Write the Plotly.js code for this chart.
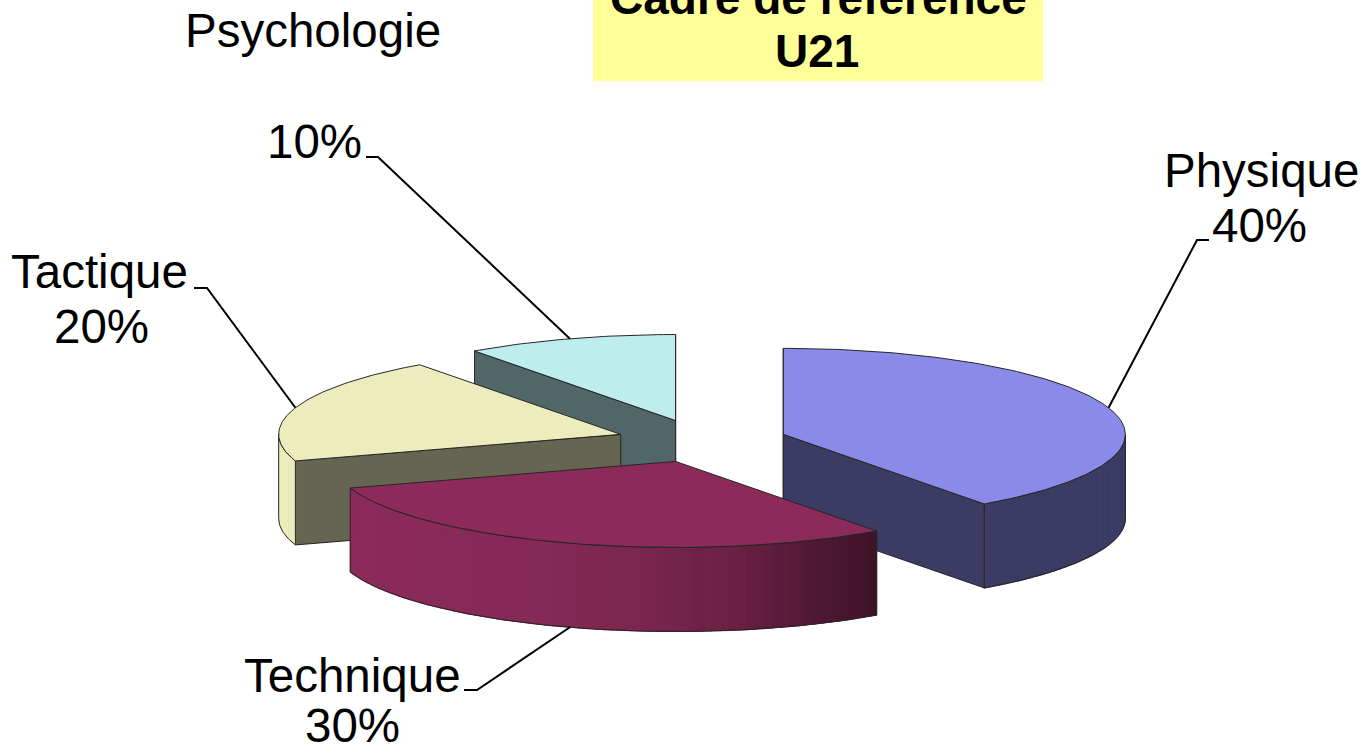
<!DOCTYPE html>
<html><head><meta charset="utf-8">
<script src="https://cdn.plot.ly/plotly-3.0.1.min.js"></script>
<style>html,body{margin:0;padding:0;background:#fff;overflow:hidden}</style>
</head><body><div id="chart" style="width:1367px;height:753px"></div>
<script>
// ---- data ----
const categories = ["Physique", "Technique", "Tactique", "Psychologie"];
const values = [40, 30, 20, 10];
const percentLabels = ["40%", "30%", "20%", "10%"];
const sliceColors = ["#8a8ae8", "#8c2b5a", "#ececbd", "#bdeded"];
const titleLines = ["Cadre de référence", "U21"];

// ---- layout / geometry params (pixels) ----
const W = 1367, H = 753;
const geom = {cx: 702, cy: 441, rx: 342, ry: 86, depth: 84, explode: 0.25};
const FONT = '"Liberation Sans", Arial, sans-serif';
const FS = 47.5;
const TFS = 46;
const labelPos = {
  "Physique":    {name: [1261, 187], pct: [1259, 242], elbow: [1197, 240], end: [1209, 240]},
  "Technique":   {name: [352, 692],  pct: [352, 742],  elbow: [477, 690],  end: [464, 690]},
  "Tactique":    {name: [100, 288],  pct: [101, 343],  elbow: [207, 288],  end: [194, 288]},
  "Psychologie": {name: [313, 47],   pct: [314, 158],  elbow: [378, 157],  end: [366, 157]}
};

const rad = d => d * Math.PI / 180;
const total = values.reduce((a, b) => a + b, 0);
let acc = 0;
const slices = values.map((v, i) => {
  const a0 = acc / total * 360; acc += v; const a1 = acc / total * 360;
  const mid = (a0 + a1) / 2;
  const ax = geom.cx + geom.explode * geom.rx * Math.sin(rad(mid));
  const ay = geom.cy - geom.explode * geom.ry * Math.cos(rad(mid));
  return {i, a0, a1, mid, ax, ay};
});
function pt(s, th, down) {
  return [s.ax + geom.rx * Math.sin(rad(th)), s.ay - geom.ry * Math.cos(rad(th)) + (down ? geom.depth : 0)];
}
function arc(s, t0, t1, down) {
  const n = Math.max(2, Math.ceil(Math.abs(t1 - t0)));
  const out = [];
  for (let k = 0; k <= n; k++) out.push(pt(s, t0 + (t1 - t0) * k / n, down));
  return out;
}
function hexRgb(h) { return [1, 3, 5].map(k => parseInt(h.substr(k, 2), 16)); }
function shade(h, f) { const c = hexRgb(h).map(x => Math.max(0, Math.min(255, Math.round(x * f)))); return `rgb(${c[0]},${c[1]},${c[2]})`; }
const shadeTable = [[-1, 1.0], [-0.4, 0.95], [-0.1, 0.87], [0.2, 0.73], [0.4, 0.57], [0.6, 0.43], [1, 0.43]];
function rimFactor(th) {
  const s = Math.sin(rad(th));
  for (let k = 0; k < shadeTable.length - 1; k++) {
    const [s0, f0] = shadeTable[k], [s1, f1] = shadeTable[k + 1];
    if (s >= s0 && s <= s1) return f0 + (f1 - f0) * (s - s0) / (s1 - s0);
  }
  return 0.43;
}
const RADIAL_F = 0.43;
const EDGE = '#262626';

const traces = [];
function poly(points, fill, lineColor, lineWidth) {
  const pts = points.concat([points[0]]);
  traces.push({
    type: 'scatter', mode: 'lines', x: pts.map(p => p[0]), y: pts.map(p => p[1]),
    fill: fill ? 'toself' : 'none', fillcolor: fill || undefined,
    line: {color: lineColor, width: lineWidth}, hoverinfo: 'skip', showlegend: false
  });
}

const order = slices.slice().sort((a, b) => a.ay - b.ay);
order.forEach(s => {
  const col = sliceColors[s.i];
  const apex = [s.ax, s.ay], apexD = [s.ax, s.ay + geom.depth];
  // radial faces
  if (Math.cos(rad(s.a0 - 90)) < 1e-6) poly([apex, pt(s, s.a0), pt(s, s.a0, true), apexD], shade(col, RADIAL_F), EDGE, 1);
  if (Math.cos(rad(s.a1 + 90)) < 1e-6) poly([apex, pt(s, s.a1), pt(s, s.a1, true), apexD], shade(col, RADIAL_F), EDGE, 1);
  // outer rim (front half)
  const r0 = Math.max(s.a0, 90), r1 = Math.min(s.a1, 270);
  if (r1 > r0) {
    const n = Math.ceil((r1 - r0) / 1.5);
    for (let k = 0; k < n; k++) {
      const t = r0 + (r1 - r0) * k / n, t2 = r0 + (r1 - r0) * (k + 1) / n;
      const c = shade(col, rimFactor((t + t2) / 2));
      poly([pt(s, t), pt(s, t2), pt(s, t2, true), pt(s, t, true)], c, c, 1.2);
    }
    poly(arc(s, r0, r1, false).concat(arc(s, r0, r1, true).reverse()), null, EDGE, 1);
  }
  // top face
  poly([apex].concat(arc(s, s.a0, s.a1, false)), col, EDGE, 1);
});

// leader lines
slices.forEach(s => {
  const lp = labelPos[categories[s.i]];
  const front = Math.cos(rad(s.mid)) < 0;
  const a = pt(s, s.mid, front);
  traces.push({type: 'scatter', mode: 'lines', x: [a[0], lp.elbow[0], lp.end[0]], y: [a[1], lp.elbow[1], lp.end[1]],
    line: {color: '#000', width: 2}, hoverinfo: 'skip', showlegend: false});
});

const px = x => x / W, py = y => 1 - y / H;
const annotations = [];
function txt(t, x, baseline, bold, fs) {
  annotations.push({text: bold ? '<b>' + t + '</b>' : t, xref: 'paper', yref: 'paper', x: px(x), y: py(baseline - 0.3465 * fs),
    xanchor: 'center', yanchor: 'middle', showarrow: false, font: {family: FONT, size: fs, color: '#000'}});
}
categories.forEach((c, i) => {
  const lp = labelPos[c];
  txt(c, lp.name[0], lp.name[1], false, FS);
  txt(percentLabels[i], lp.pct[0], lp.pct[1], false, FS);
});
txt(titleLines[0], 819, 14, true, TFS);
txt(titleLines[1], 817, 67, true, TFS);

const layout = {
  width: W, height: H, margin: {l: 0, r: 0, t: 0, b: 0, pad: 0},
  paper_bgcolor: '#fff', plot_bgcolor: '#fff', showlegend: false,
  xaxis: {range: [0, W], visible: false, fixedrange: true},
  yaxis: {range: [H, 0], visible: false, fixedrange: true},
  shapes: [{type: 'rect', xref: 'paper', yref: 'paper', x0: px(593), x1: px(1043), y0: py(81), y1: py(-20),
    fillcolor: '#ffff99', line: {width: 0}, layer: 'below'}],
  annotations: annotations
};
Plotly.newPlot('chart', traces, layout, {displayModeBar: false, staticPlot: true});
</script></body></html>
